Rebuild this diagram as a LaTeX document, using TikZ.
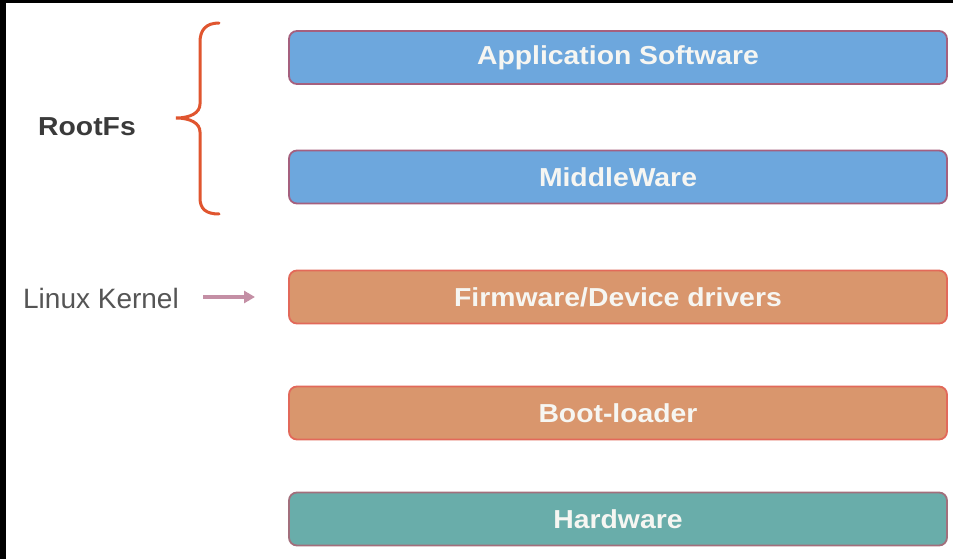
\documentclass[tikz,border=0pt]{standalone}
\usepackage{fontspec}
\setmainfont{Liberation Sans}
\newfontfamily\boxfont[FakeStretch=1.09]{Liberation Sans}
\usetikzlibrary{arrows.meta}
\definecolor{bluefill}{HTML}{6DA7DD}
\definecolor{blueedge}{HTML}{A5607E}
\definecolor{orangefill}{HTML}{D9966D}
\definecolor{orangeedge}{HTML}{E2695A}
\definecolor{tealfill}{HTML}{69ADAA}
\definecolor{tealedge}{HTML}{A26F7C}
\definecolor{bracecol}{HTML}{E0552F}
\definecolor{arrowcol}{HTML}{C48FA5}
\definecolor{txtwhite}{HTML}{F6F6F2}
\tikzset{
  layer/.style={rounded corners=8pt, line width=1.8pt, minimum width=658pt, minimum height=53pt,
     inner sep=0pt, text=txtwhite, font=\boxfont\bfseries\fontsize{26}{28}\selectfont},
  bluelayer/.style={layer, fill=bluefill, draw=blueedge},
  orangelayer/.style={layer, fill=orangefill, draw=orangeedge},
  teallayer/.style={layer, fill=tealfill, draw=tealedge},
  bracestyle/.style={draw=bracecol, line width=3pt, line cap=round},
  kernarrow/.style={draw=arrowcol, line width=4.5pt, -{Triangle[length=11pt,width=12pt]}},
}
\begin{document}
\begin{tikzpicture}[x=1pt,y=-1pt]
\fill[black] (0,0) rectangle (953,559);
\fill[white] (6,3) rectangle (953,559);
\useasboundingbox (0,0) rectangle (953,559);

\node[bluelayer] (app) at (618,57.5) {Application Software};
\node[bluelayer] (mid) at (618,177) {MiddleWare};
\node[orangelayer] (fw) at (618,297) {Firmware/Device drivers};
\node[orangelayer] (boot) at (618,413) {Boot-loader};
\node[teallayer] (hw) at (618,519) {Hardware};

\node[font=\boxfont\bfseries\fontsize{26}{28}\selectfont, text={rgb,255:red,58;green,58;blue,58}, inner sep=0pt] (rootfs) at (87,127) {RootFs};
\node[font=\fontsize{28}{30}\selectfont, text={rgb,255:red,85;green,85;blue,85}, inner sep=0pt] (lk) at (101,298) {Linux Kernel};

\coordinate (ka) at (203,297);
\coordinate (kb) at (255,297);
\draw[kernarrow] (ka) -- (kb);

\draw[bracestyle] (219,23) .. controls (206,23) and (200,30) .. (200,42) -- (200,104)
  .. controls (200,113) and (190,118) .. (176,118)
  .. controls (190,118) and (200,123) .. (200,132) -- (200,198)
  .. controls (200,209) and (206,214) .. (219,214);
\end{tikzpicture}
\end{document}
